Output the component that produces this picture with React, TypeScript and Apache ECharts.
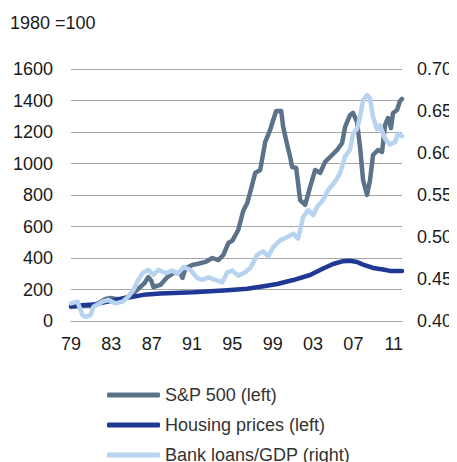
import React, { useEffect, useRef } from "react";
import * as echarts from "echarts";

const title = "1980 =100";
const xTickLabels = ["79", "83", "87", "91", "95", "99", "03", "07", "11"];
const leftTicks = [0, 200, 400, 600, 800, 1000, 1200, 1400, 1600];
const rightTicks = [0.4, 0.45, 0.5, 0.55, 0.6, 0.65, 0.7];

const seriesNames = ["S&P 500 (left)", "Housing prices (left)", "Bank loans/GDP (right)"];

// S&P 500 (1980 = 100)
const spYears = [
  1979.0, 1979.94, 1980.93, 1981.43, 1981.92, 1982.42, 1982.91, 1983.41, 1983.9, 1984.59,
  1985.19, 1985.88, 1986.28, 1986.67, 1986.97, 1987.17, 1987.86, 1988.56, 1989.16, 1989.85,
  1990.05, 1990.36, 1990.65, 1991.03, 1991.72, 1992.33, 1993.02, 1993.6, 1994.1, 1994.6,
  1995.0, 1995.58, 1996.08, 1996.48, 1996.77, 1997.27, 1997.76, 1998.26, 1998.75, 1999.05,
  1999.35, 1999.84, 2000.04, 2000.44, 2000.73, 2000.93, 2001.33, 2001.72, 2002.22, 2002.71,
  2003.21, 2003.7, 2004.2, 2004.89, 2005.39, 2005.88, 2006.18, 2006.67, 2006.96, 2007.36,
  2007.66, 2007.96, 2008.35, 2008.65, 2008.95, 2009.44, 2009.84, 2010.14, 2010.44, 2010.73,
  2010.93, 2011.33, 2011.62, 2011.82,
];
const spValues = [
  89, 95, 95, 100, 121, 140, 146, 140, 140, 152,
  178, 216, 240, 279, 255, 216, 229, 279, 305, 305,
  273, 336, 343, 356, 365, 375, 400, 387, 419, 495,
  510, 578, 700, 749, 819, 940, 959, 1137, 1213, 1276,
  1334, 1334, 1232, 1118, 1041, 978, 972, 768, 737, 851,
  959, 940, 1010, 1054, 1086, 1130, 1232, 1308, 1321, 1264,
  1105, 895, 800, 895, 1054, 1086, 1073, 1245, 1289, 1225,
  1321, 1340, 1397, 1410,
];

// Housing prices (1980 = 100)
const housingYears = [
  1979.0, 1981.23, 1982.91, 1984.59, 1986.18, 1987.86, 1991.13, 1994.49, 1996.47, 1998.26,
  1999.45, 2001.03, 2002.71, 2004.0, 2004.99, 2005.98, 2006.67, 2007.36, 2007.96, 2008.95,
  2009.94, 2010.63, 2011.82,
];
const housingValues = [
  95, 104, 127, 148, 166, 174, 182, 195, 205, 222,
  235, 260, 292, 333, 362, 380, 382, 375, 358, 337,
  327, 318, 318,
];

// Bank loans / GDP (ratio)
const loansYears = [
  1979.0, 1979.64, 1980.14, 1980.44, 1980.93, 1981.23, 1982.12, 1982.71, 1983.41, 1984.1,
  1984.69, 1985.19, 1985.68, 1986.08, 1986.67, 1987.17, 1987.66, 1988.36, 1989.05, 1989.54,
  1990.14, 1990.83, 1991.52, 1992.02, 1992.61, 1993.31, 1994.0, 1994.49, 1994.99, 1995.58,
  1996.28, 1996.77, 1997.47, 1998.06, 1998.55, 1999.05, 1999.74, 2000.44, 2001.03, 2001.52,
  2002.02, 2002.51, 2003.01, 2003.41, 2004.0, 2004.5, 2005.19, 2005.68, 2006.18, 2006.67,
  2006.97, 2007.37, 2007.66, 2007.96, 2008.36, 2008.65, 2008.95, 2009.35, 2009.64, 2010.14,
  2010.63, 2011.13, 2011.43, 2011.82,
];
const loansValues = [
  0.421, 0.423, 0.407, 0.405, 0.407, 0.417, 0.423, 0.425, 0.421, 0.423,
  0.429, 0.437, 0.449, 0.457, 0.461, 0.455, 0.461, 0.457, 0.46, 0.456,
  0.464, 0.461, 0.451, 0.449, 0.452, 0.449, 0.446, 0.458, 0.46, 0.454,
  0.458, 0.463, 0.479, 0.483, 0.477, 0.488, 0.496, 0.5, 0.504, 0.498,
  0.524, 0.532, 0.526, 0.536, 0.544, 0.556, 0.566, 0.576, 0.596, 0.604,
  0.623, 0.629, 0.643, 0.663, 0.669, 0.665, 0.643, 0.628, 0.633, 0.617,
  0.61, 0.613, 0.623, 0.62,
];

const BASE_YEAR = 1979;
const END_YEAR = 2011.82;

const pair = (years: number[], values: number[]) =>
  years.map((y, i) => [y - BASE_YEAR, values[i]]);

export default function App() {
  const ref = useRef<HTMLDivElement>(null);
  useEffect(() => {
    if (!ref.current) return;
    const chart = echarts.init(ref.current, undefined, { renderer: "svg" });
    const font = "'Liberation Sans', Arial, sans-serif";
    const textColor = "#1a1a1a";
    const fs = 18;
    const lw = 4.5;
    chart.setOption({
      animation: false,
      textStyle: { fontFamily: font },
      graphic: [
        {
          type: "line",
          shape: { x1: 10, y1: 0.5, x2: 457, y2: 0.5 },
          style: { stroke: "#b3b3b3", lineWidth: 1.5 },
        },
        {
          type: "text",
          left: 10,
          top: 14,
          style: { text: title, fontSize: fs, fontFamily: font, fill: textColor },
        },
      ],
      legend: {
        orient: "vertical",
        left: 102,
        top: 381,
        height: 120,
        itemWidth: 53,
        itemHeight: 5,
        itemGap: 12,
        icon: "roundRect",
        textStyle: { fontSize: fs, color: "#333", fontFamily: font },
        data: seriesNames,
      },
      grid: { left: 71, right: 55, top: 69, height: 252, containLabel: false },
      xAxis: {
        type: "value",
        min: 0,
        max: END_YEAR - BASE_YEAR,
        interval: 4,
        axisLine: { show: true, lineStyle: { color: "#a6a6a6", width: 1.2 } },
        axisTick: { show: false },
        splitLine: { show: false },
        axisLabel: {
          fontSize: fs,
          color: textColor,
          margin: 14,
          showMaxLabel: false,
          formatter: (v: number) => {
            if (Math.abs(v % 4) > 1e-6) return "";
            const idx = Math.round(v / 4);
            return xTickLabels[idx] ?? "";
          },
        },
      },
      yAxis: [
        {
          type: "value",
          min: leftTicks[0],
          max: leftTicks[leftTicks.length - 1],
          interval: 200,
          axisLine: { show: false },
          axisTick: { show: false },
          splitLine: { show: true, lineStyle: { color: "#a6a6a6", width: 1.2 } },
          axisLabel: { fontSize: fs, color: textColor, margin: 18, formatter: (v: number) => String(v) },
        },
        {
          type: "value",
          min: rightTicks[0],
          max: rightTicks[rightTicks.length - 1],
          interval: 0.05,
          axisLine: { show: false },
          axisTick: { show: false },
          splitLine: { show: false },
          axisLabel: {
            fontSize: fs,
            color: textColor,
            margin: 15,
            formatter: (v: number) => v.toFixed(2),
          },
        },
      ],
      series: [
        {
          name: seriesNames[0],
          type: "line",
          yAxisIndex: 0,
          data: pair(spYears, spValues),
          showSymbol: false,
          symbol: "none",
          lineStyle: { color: "#5b7289", width: lw, join: "round", cap: "round" },
          itemStyle: { color: "#5b7289" },
        },
        {
          name: seriesNames[1],
          type: "line",
          yAxisIndex: 0,
          data: pair(housingYears, housingValues),
          showSymbol: false,
          symbol: "none",
          lineStyle: { color: "#1f3894", width: lw, join: "round", cap: "round" },
          itemStyle: { color: "#1f3894" },
        },
        {
          name: seriesNames[2],
          type: "line",
          yAxisIndex: 1,
          data: pair(loansYears, loansValues),
          showSymbol: false,
          symbol: "none",
          lineStyle: { color: "#b7d3f0", width: lw, join: "round", cap: "round" },
          itemStyle: { color: "#b7d3f0" },
        },
      ],
    });
    return () => chart.dispose();
  }, []);
  return (
    <div style={{ width: 457, height: 462, marginLeft: -8, marginTop: -8, overflow: "hidden" }}>
      <div ref={ref} style={{ width: 457, height: 500 }} />
    </div>
  );
}
